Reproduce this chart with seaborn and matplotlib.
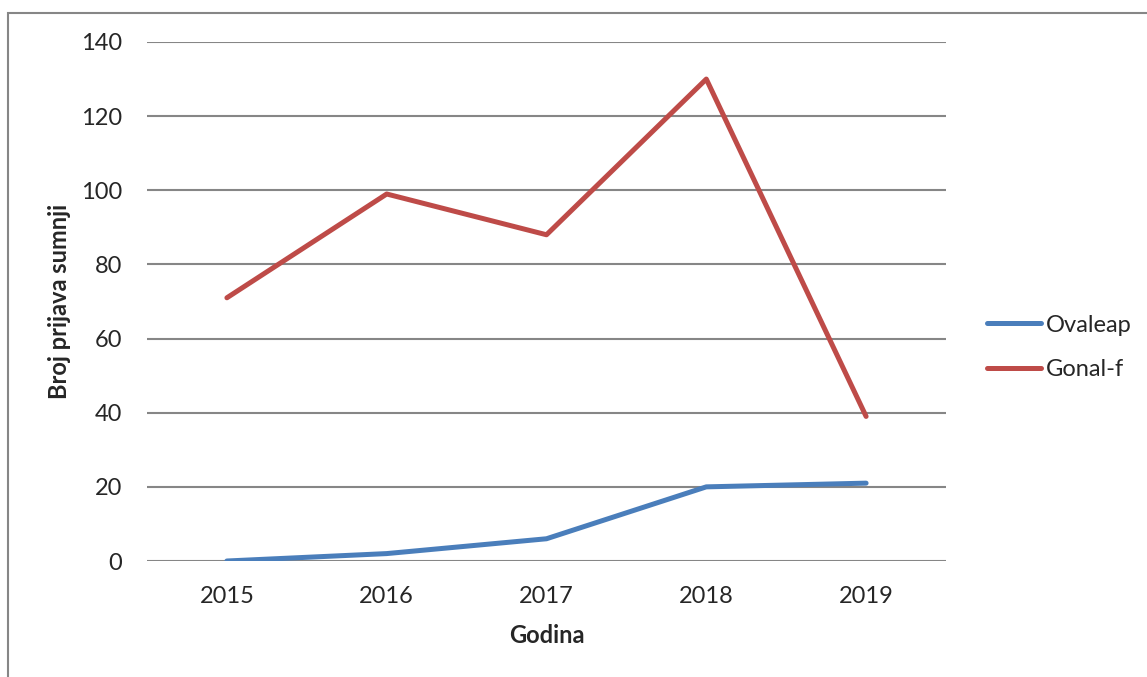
import matplotlib
matplotlib.use("Agg")
import matplotlib.pyplot as plt
import numpy as np
import pandas as pd
import seaborn as sns
from matplotlib.patches import Rectangle

years = ["2015", "2016", "2017", "2018", "2019"]
ovaleap = [0, 2, 6, 20, 21]
gonal_f = [71, 99, 88, 130, 39]
series_names = ["Ovaleap", "Gonal-f"]
colors = ["#4A7EBB", "#BE4B48"]

df = pd.DataFrame({
    "Godina": years * 2,
    "pos": list(range(len(years))) * 2,
    "value": ovaleap + gonal_f,
    "serija": [series_names[0]] * len(years) + [series_names[1]] * len(years),
})

sns.set_style("white")
plt.rcParams["font.family"] = ["Lato", "DejaVu Sans"]
fs = 17

fig = plt.figure(figsize=(11.47, 6.77), dpi=100)
ax = fig.add_axes([147 / 1147, 1 - 561 / 677, 799 / 1147, 519 / 677])

# outer chart border (Excel chart area)
fig.patches.append(Rectangle((8 / 1147, -0.05), 1.1, 1 - 13 / 677 + 0.05,
                             transform=fig.transFigure, fill=False,
                             edgecolor="#868686", linewidth=1.5))

sns.lineplot(data=df, x="pos", y="value", hue="serija", palette=colors,
             linewidth=3.6, ax=ax, legend=False, zorder=3)

ax.set_xlim(-0.5, len(years) - 0.5)
ax.set_ylim(0, 140)
ax.set_yticks(np.arange(0, 141, 20))
ax.set_xticks(range(len(years)))
ax.set_xticklabels(years)
ax.grid(axis="y", color="#868686", linewidth=1.5)
ax.grid(axis="x", visible=False)
for s in ax.spines.values():
    s.set_visible(False)
ax.tick_params(axis="both", length=0, labelsize=fs)
ax.tick_params(axis="y", pad=18)
ax.tick_params(axis="x", pad=18)

ax.set_xlabel("Godina", fontsize=fs, fontweight="bold", labelpad=12)
ax.set_ylabel("Broj prijava sumnji", fontsize=fs, fontweight="bold", labelpad=7)

handles = [plt.Line2D([], [], color=c, linewidth=3.6, solid_capstyle="round") for c in colors]
fig.legend(handles, series_names, loc="center left",
           bbox_to_anchor=(987 / 1147, 1 - 347.5 / 677), frameon=False,
           fontsize=fs, handlelength=2.3, handletextpad=0.2, labelspacing=1.0,
           borderpad=0, borderaxespad=0)

fig.savefig("out.png", dpi=100)
